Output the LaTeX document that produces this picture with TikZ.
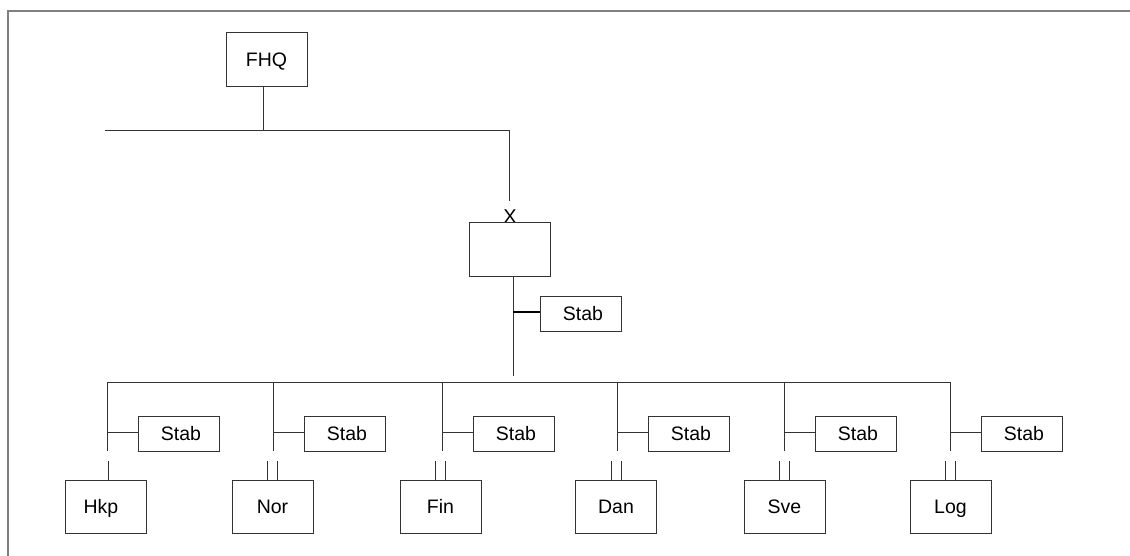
\documentclass[tikz,border=0pt]{standalone}
\usepackage{fontspec}
\setmainfont{Liberation Sans}
\begin{document}
\begin{tikzpicture}[x=1pt,y=-1pt,
  ln/.style={draw=black!80,line width=1pt},
  frame/.style={draw=black!50,line width=1.6pt},
  box/.style={draw=black!80,line width=1pt,rectangle,inner sep=0pt,
    text height=14pt,text depth=0pt,font=\fontsize{19.5}{23}\selectfont},
  unitbox/.style={box,minimum width=81pt,minimum height=53pt},
  stabbox/.style={box,minimum width=81pt,minimum height=35pt},
  thick ln/.style={draw=black,line width=1.8pt}]
\useasboundingbox (0,0) rectangle (1130,556);
% frame
\coordinate (fbl) at (8,556);
\coordinate (ftl) at (8,11);
\coordinate (ftr) at (1130,11);
\draw[frame] (fbl) -- (ftl) -- (ftr);
% top
\node[unitbox,minimum height=54pt] (fhq) at (266.5,60) {FHQ};
\coordinate (t1) at (263,131);
\coordinate (tl) at (105,131);
\coordinate (tr) at (509,131);
\coordinate (xe) at (509,201);
\draw[ln] (t1 |- fhq.south) -- (t1);
\draw[ln] (tl) -- (tr) -- (xe);
\node[font=\fontsize{20}{24}\selectfont,anchor=base,inner sep=0pt] (xmark) at (510,223.5) {X};
\node[unitbox] (mid) at (509.5,249.5) {};
\coordinate (mb) at (513,376);
\coordinate (mj) at (513,312);
\draw[ln] (mid.south -| mb) -- (mb);
\node[stabbox] (stab0) at (580.5,313.5) {\hspace*{5pt}Stab};
\draw[thick ln] (mj) -- (mj -| stab0.west);
% bus
\foreach \n/\x in {1/107,2/273,3/442,4/617,5/784,6/950}{
  \coordinate (b\n) at (\x,382);
  \coordinate (e\n) at (\x,451);
  \coordinate (j\n) at (\x,432.5);
}
\draw[ln] (b1) -- (b6);
\foreach \n in {1,...,6}{\draw[ln] (b\n) -- (e\n);}
% stab boxes
\foreach \n/\x in {1/107,2/273,3/442,4/617,5/784,6/950}{
  \node[stabbox] (s\n) at (\x+71.5,433.5) {\hspace*{5pt}Stab};
  \draw[ln] (j\n) -- (j\n -| s\n.west);
}
% unit boxes
\node[unitbox] (hkp) at (106,506.5) {\hspace*{-10pt}Hkp};
\node[unitbox] (nor) at (272.5,506.5) {Nor};
\node[unitbox] (fin) at (440.5,506.5) {Fin};
\node[unitbox] (dan) at (616,506.5) {Dan};
\node[unitbox] (sve) at (784.5,506.5) {Sve};
\node[unitbox] (log) at (950.5,506.5) {Log};
% stubs
\draw[ln] ([xshift=2pt]hkp.north) -- ++(0,-19);
\foreach \u in {nor,fin,dan,sve,log}{
  \draw[ln] ([xshift=-5pt]\u.north) -- ++(0,-19);
  \draw[ln] ([xshift=5pt]\u.north) -- ++(0,-19);
}
\end{tikzpicture}
\end{document}
